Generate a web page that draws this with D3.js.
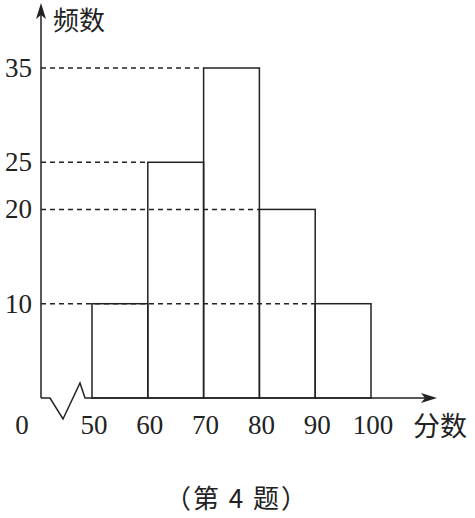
<!DOCTYPE html>
<html><head><meta charset="utf-8">
<script src="https://cdn.jsdelivr.net/npm/d3@7"></script>
<style>body{margin:0;background:#fff}</style>
</head><body>
<script>
const binStarts = [50, 60, 70, 80, 90];
const binWidth = 10;
const frequencies = [10, 25, 35, 20, 10];
const yTicks = [10, 20, 25, 35];
const xTicks = [50, 60, 70, 80, 90, 100];
const yTitle = "频数";
const xTitle = "分数";
const caption = "（第 4 题）";

const W = 475, H = 518;
const svg = d3.select("body").append("svg").attr("width", W).attr("height", H);
const ink = "#222";
const x = d3.scaleLinear().domain([50, 100]).range([92, 371]);
const y = d3.scaleLinear().domain([0, 35]).range([398, 68]);
const ox = 41, oy = y(0);
const numFont = "'Liberation Serif', 'DejaVu Serif', serif";
const cjkFont = "'Noto Sans CJK SC', sans-serif";

// dashed guide lines
yTicks.forEach(v => {
  let lastIdx = -1;
  frequencies.forEach((f, i) => { if (f === v) lastIdx = i; });
  const xe = x(binStarts[lastIdx]);
  svg.append("line").attr("x1", ox).attr("x2", xe).attr("y1", y(v)).attr("y2", y(v))
    .attr("stroke", ink).attr("stroke-width", 1.5).attr("stroke-dasharray", "5,4");
});

// bars
svg.selectAll("rect.bar").data(binStarts).join("rect").attr("class", "bar")
  .attr("x", d => x(d)).attr("width", d => x(d + binWidth) - x(d))
  .attr("y", (d, i) => y(frequencies[i])).attr("height", (d, i) => y(0) - y(frequencies[i]))
  .attr("fill", "none").attr("stroke", ink).attr("stroke-width", 1.5);

// y axis
svg.append("line").attr("x1", ox).attr("x2", ox).attr("y1", oy).attr("y2", 14)
  .attr("stroke", ink).attr("stroke-width", 1.5);
svg.append("path").attr("d", `M${ox},3 L${ox-5},19 L${ox},15 L${ox+5},19 Z`).attr("fill", ink);

// x axis with break
const b = x(50);
svg.append("path")
  .attr("d", `M${ox},${oy} L${b-42},${oy} L${b-29},${oy+21} L${b-12},${oy-15} L${b-7},${oy} L426,${oy}`)
  .attr("fill", "none").attr("stroke", ink).attr("stroke-width", 1.5).attr("stroke-linejoin", "miter");
svg.append("path").attr("d", `M437,${oy} L421,${oy-5} L425,${oy} L421,${oy+5} Z`).attr("fill", ink);

// tick labels
svg.selectAll("text.xt").data(xTicks).join("text").attr("class", "xt")
  .attr("x", d => x(d) + 2).attr("y", 434).attr("text-anchor", "middle")
  .attr("font-family", numFont).attr("font-size", 27).attr("fill", ink).text(d => d);
svg.append("text").attr("x", 22).attr("y", 434).attr("text-anchor", "middle")
  .attr("font-family", numFont).attr("font-size", 27).attr("fill", ink).text("0");
svg.selectAll("text.yt").data(yTicks).join("text").attr("class", "yt")
  .attr("x", 32).attr("y", d => y(d) + 9).attr("text-anchor", "end")
  .attr("font-family", numFont).attr("font-size", 27).attr("fill", ink).text(d => d);

// titles
svg.append("text").attr("x", 53).attr("y", 30).attr("font-family", cjkFont).attr("font-size", 26)
  .attr("fill", ink).text(yTitle);
svg.append("text").attr("x", 413).attr("y", 436).attr("font-family", cjkFont).attr("font-size", 27)
  .attr("fill", ink).text(xTitle);
svg.append("text").attr("x", 237).attr("y", 508).attr("text-anchor", "middle").attr("font-family", cjkFont)
  .attr("font-size", 26).attr("letter-spacing", 2).attr("fill", ink).text(caption);
</script>
</body></html>
